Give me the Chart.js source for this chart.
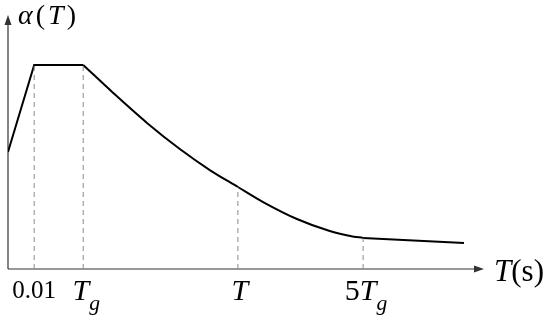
<!DOCTYPE html>
<html>
<head>
<meta charset="utf-8">
<script src="https://cdn.jsdelivr.net/npm/chart.js@4"></script>
<style>
  body { margin: 0; background: #fff; }
  canvas { display: block; }
</style>
</head>
<body>
<canvas id="spectrum" width="550" height="316"></canvas>
<script>
// period (arbitrary axis units, axis not to scale) and spectrum value
const periodT = [0, 5.5, 15.8, 22.1, 29.2, 36.1, 42.4, 48.3, 53.6, 60.7, 67.6, 71.9, 74.6, 95.8];
const alpha   = [0.574, 1, 1, 0.863, 0.716, 0.588, 0.485, 0.402, 0.328, 0.245, 0.186, 0.162, 0.152, 0.127];

// marked periods on the x axis ("_" = subscript)
const tickT = [5.5, 15.8, 48.3, 74.6];
const tickLabels = ["0.01", "T_g", "T", "5T_g"];

const xAxisTitle = "T(s)";
const yAxisTitle = "α(T)";

const pts = (a, b) => periodT.slice(a, b).map((t, i) => ({ x: t, y: alpha[a + i] }));

const lineStyle = { borderColor: "#000", borderWidth: 2, pointRadius: 0, showLine: true, fill: false };

const guides = tickT.map(t => ({
  data: [{ x: t, y: 0 }, { x: t, y: alpha[periodT.indexOf(t)] }],
  borderColor: "#8a8a8a",
  borderWidth: 1,
  borderDash: [5, 4],
  pointRadius: 0,
  showLine: true
}));

// draw text where T, g and α are italic and "_" lowers the next char
function drawRich(ctx, str, x, y, size, gap = 0) {
  const parts = [];
  for (let i = 0; i < str.length; i++) {
    let sub = false;
    if (str[i] === "_") { sub = true; i++; }
    const ch = str[i];
    const italic = /[A-Za-zα]/.test(ch) && ch !== "s";
    const sz = sub ? size * 0.72 : size;
    const font = (italic ? "italic " : "") + sz + "px 'Liberation Serif', 'Times New Roman', serif";
    ctx.font = font;
    parts.push({ ch, font, w: ctx.measureText(ch).width + gap, dy: sub ? size * 0.32 : 0 });
  }
  const total = parts.reduce((s, p) => s + p.w, 0) - gap;
  let cx = x - total / 2;
  ctx.textAlign = "left";
  ctx.textBaseline = "alphabetic";
  parts.forEach(p => {
    ctx.font = p.font;
    ctx.fillText(p.ch, cx, y + p.dy);
    cx += p.w;
  });
}

const axesPlugin = {
  id: "axesPlugin",
  beforeDatasetsDraw(chart) {
    const { ctx, chartArea: a } = chart;
    ctx.save();
    ctx.strokeStyle = "#333";
    ctx.fillStyle = "#333";
    ctx.lineWidth = 1.2;
    ctx.beginPath();
    ctx.moveTo(a.left, a.bottom);
    ctx.lineTo(a.right - 6, a.bottom);
    ctx.moveTo(a.left, a.bottom);
    ctx.lineTo(a.left, a.top + 6);
    ctx.stroke();
    // arrow heads
    ctx.beginPath();
    ctx.moveTo(a.right, a.bottom);
    ctx.lineTo(a.right - 10, a.bottom - 3.5);
    ctx.lineTo(a.right - 10, a.bottom + 3.5);
    ctx.closePath();
    ctx.fill();
    ctx.beginPath();
    ctx.moveTo(a.left, a.top);
    ctx.lineTo(a.left - 3.5, a.top + 10);
    ctx.lineTo(a.left + 3.5, a.top + 10);
    ctx.closePath();
    ctx.fill();
    ctx.restore();
  },
  afterDraw(chart) {
    const { ctx, chartArea: a } = chart;
    const xs = chart.scales.x;
    ctx.save();
    ctx.fillStyle = "#000";
    tickT.forEach((t, i) => {
      const px = xs.getPixelForValue(t);
      const lab = tickLabels[i];
      if (/^[0-9.]+$/.test(lab)) {
        drawRich(ctx, lab, px, a.bottom + 29, 25);
      } else {
        drawRich(ctx, lab, px + (lab.length > 1 ? 3 : 2), a.bottom + 31, 30);
      }
    });
    drawRich(ctx, xAxisTitle, a.right + 35, a.bottom + 12, 31);
    drawRich(ctx, yAxisTitle, a.left + 39, a.top + 9, 28, 3);
    ctx.restore();
  }
};

new Chart(document.getElementById("spectrum").getContext("2d"), {
  type: "scatter",
  data: {
    datasets: [
      ...guides,
      { ...lineStyle, data: pts(0, 3) },
      { ...lineStyle, data: pts(2, 13), cubicInterpolationMode: "monotone" },
      { ...lineStyle, data: pts(12, 14) }
    ]
  },
  options: {
    responsive: false,
    animation: false,
    layout: { padding: { left: 8, right: 66, top: 15, bottom: 47 } },
    plugins: { legend: { display: false }, tooltip: { enabled: false } },
    scales: {
      x: { type: "linear", min: 0, max: 100, display: false },
      y: { type: "linear", min: 0, max: 1.245, display: false }
    },
    elements: { line: { borderCapStyle: "butt", borderJoinStyle: "miter" } }
  },
  plugins: [axesPlugin]
});
</script>
</body>
</html>
